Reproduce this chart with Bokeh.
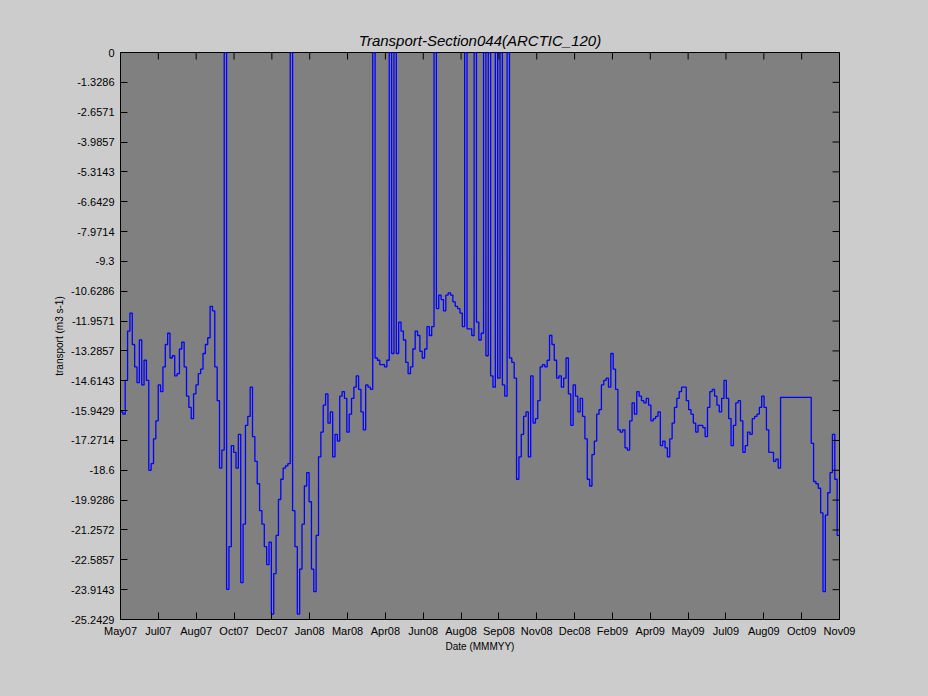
from bokeh.plotting import figure
from bokeh.models import FixedTicker, Range1d
from bokeh.embed import file_html
from bokeh.resources import INLINE

# --- data (3-day sampled transport, m3 s-1; 0 = missing-data spikes) ---
day_step = 3
transport = [
    -16.0, -16.1, -14.6, -12.4, -11.6, -13.0, -14.0, -14.7, -12.8, -14.8,
    -13.7, -14.6, -18.6, -18.3, -17.2, -16.4, -14.8, -15.1, -14.0, -13.0,
    -12.5, -13.6, -13.5, -14.4, -14.3, -13.2, -12.9, -14.0, -15.3, -15.8,
    -16.3, -15.2, -14.8, -14.3, -14.1, -13.4, -13.0, -12.7, -11.3, -11.5,
    -14.0, -15.5, -18.5, -17.7, 0.0, -23.9, -22.0, -17.5, -17.8, -18.5,
    -17.0, -23.6, -21.0, -16.6, -16.2, -14.9, -17.1, -18.2, -19.2, -20.4,
    -21.0, -22.0, -22.8, -21.8, -25.0, -23.2, -21.5, -19.9, -19.0, -18.5,
    -18.4, -18.3, 0.0, -20.4, -22.0, -25.0, -23.0, -21.0, -19.3, -18.7,
    -20.0, -23.0, -24.0, -21.5, -18.0, -16.9, -15.7, -15.2, -16.5, -16.0,
    -18.0, -17.0, -17.3, -15.3, -15.1, -15.4, -16.9, -16.1, -15.4, -14.9,
    -14.4, -15.0, -16.0, -16.8, -14.8, -14.9, -15.0, 0.0, -13.6, -13.7,
    -13.9, -13.9, -14.0, -13.7, 0.0, -13.4, 0.0, -13.4, -12.0, -12.4,
    -12.8, -13.8, -14.3, -14.0, -13.2, -12.4, -12.6, -13.3, -13.6, -13.2,
    -12.2, -12.6, -12.2, 0.0, -11.4, -10.8, -11.0, -11.5, -10.8, -10.7,
    -10.8, -11.1, -11.3, -11.4, -11.6, -12.2, 0.0, -12.3, -12.3, -12.6,
    0.0, -12.0, -12.8, -12.5, 0.0, -13.5, 0.0, -14.4, -14.9, 0.0,
    -14.5, 0.0, -14.8, -15.3, 0.0, -13.6, -13.8, -14.5, -19.0, -18.0,
    -17.0, -16.2, -16.0, -18.0, -14.4, -16.5, -16.3, -15.5, -14.0, -13.9,
    -14.0, -13.7, -12.6, -13.0, -13.7, -14.5, -14.4, -14.9, -14.5, -13.6,
    -15.2, -16.6, -14.8, -15.3, -16.0, -15.4, -16.2, -17.2, -19.0, -19.3,
    -17.9, -17.3, -16.1, -15.9, -14.8, -14.6, -14.5, -14.9, -13.4, -14.1,
    -15.0, -16.8, -16.9, -16.8, -17.6, -17.7, -16.4, -15.6, -16.1, -15.1,
    -15.3, -15.5, -15.6, -15.4, -15.7, -16.4, -16.3, -16.2, -16.0, -17.5,
    -17.3, -17.6, -18.0, -17.2, -16.5, -15.8, -15.4, -15.1, -14.9, -14.9,
    -15.5, -15.9, -16.1, -16.5, -16.9, -16.6, -16.6, -16.7, -17.1, -15.8,
    -15.1, -15.0, -15.3, -15.7, -16.0, -15.4, -14.6, -15.4, -16.3, -17.5,
    -16.6, -15.6, -15.5, -16.4, -17.8, -17.5, -16.9, -17.0, -16.3, -16.2,
    -16.1, -15.8, -15.3, -15.8, -16.8, -17.8, -17.8, -18.2, -18.1, -18.5,
    -15.35, -15.35, -15.35, -15.35, -15.35, -15.35, -15.35, -15.35, -15.35, -15.35,
    -15.35, -15.35, -15.35, -17.4, -19.1, -19.2, -19.4, -20.5, -24.0, -20.6,
    -19.6, -18.7, -17.0, -19.0, -21.5,
]
total_days = 915

x_tick_labels = ["May07", "Jul07", "Aug07", "Oct07", "Dec07", "Jan08", "Mar08",
                 "Apr08", "Jun08", "Aug08", "Sep08", "Nov08", "Dec08", "Feb09",
                 "Apr09", "May09", "Jul09", "Aug09", "Oct09", "Nov09"]
y_tick_labels = ["0", "-1.3286", "-2.6571", "-3.9857", "-5.3143", "-6.6429",
                 "-7.9714", "-9.3", "-10.6286", "-11.9571", "-13.2857", "-14.6143",
                 "-15.9429", "-17.2714", "-18.6", "-19.9286", "-21.2572", "-22.5857",
                 "-23.9143", "-25.2429"]
y_min = -25.2429
y_max = 0.0

days = [i * day_step for i in range(len(transport))]
xs = days + [total_days]
ys = transport + [transport[-1]]

FONT = "Liberation Sans"
FRAME_W = 719
FRAME_H = 567
TICK_PX = 7

p = figure(frame_width=FRAME_W, frame_height=FRAME_H,
           min_border_left=120, min_border_right=88,
           min_border_top=52, min_border_bottom=76,
           x_range=Range1d(0, total_days), y_range=Range1d(y_min, y_max),
           output_backend="svg", toolbar_location=None,
           background_fill_color="#808080", border_fill_color="#cccccc",
           outline_line_color="black", outline_line_width=1)

p.step(xs, ys, mode="after", line_color="#0000ff", line_width=1.3)

p.grid.visible = False

nx = len(x_tick_labels)
x_ticks = [total_days * k / (nx - 1) for k in range(nx)]
ny = len(y_tick_labels)
y_ticks = [y_max - (y_max - y_min) * k / (ny - 1) for k in range(ny)]

# mirrored inward ticks on the top and right frame edges
tick_dy = (y_max - y_min) * TICK_PX / FRAME_H
tick_dx = total_days * TICK_PX / FRAME_W
p.segment(x0=x_ticks, y0=[y_max] * nx, x1=x_ticks, y1=[y_max - tick_dy] * nx,
          line_color="black", line_width=1)
p.segment(x0=[total_days] * ny, y0=y_ticks, x1=[total_days - tick_dx] * ny, y1=y_ticks,
          line_color="black", line_width=1)

p.title.text = "Transport-Section044(ARCTIC_120)"
p.title.align = "center"
p.title.text_font = FONT
p.title.text_font_style = "italic"
p.title.text_font_size = "15px"
p.title.text_color = "black"
p.title.standoff = 8

def style_axis(ax, ticks, labels):
    ax.ticker = FixedTicker(ticks=ticks)
    ax.major_label_overrides = {t: l for t, l in zip(ticks, labels)}
    ax.major_tick_in = TICK_PX
    ax.major_tick_out = 0
    ax.minor_tick_in = 0
    ax.minor_tick_out = 0
    ax.axis_line_color = "black"
    ax.major_tick_line_color = "black"
    ax.major_label_text_font = FONT
    ax.major_label_text_font_size = "11px"
    ax.major_label_text_color = "black"
    ax.axis_label_text_font = FONT
    ax.axis_label_text_font_size = "10px"
    ax.axis_label_text_font_style = "normal"
    ax.axis_label_text_color = "black"

xa = p.xaxis[0]
style_axis(xa, x_ticks, x_tick_labels)
xa.axis_label = "Date (MMMYY)"
xa.major_label_standoff = 5
xa.axis_label_standoff = 1

ya = p.yaxis[0]
style_axis(ya, y_ticks, y_tick_labels)
ya.axis_label = "transport (m3 s-1)"
ya.major_label_standoff = 6
ya.axis_label_standoff = 3

html = file_html(p, INLINE)
html = html.replace("<head>", "<head><style>body{background:#cccccc;}</style>", 1)
open("out.html", "w").write(html)
